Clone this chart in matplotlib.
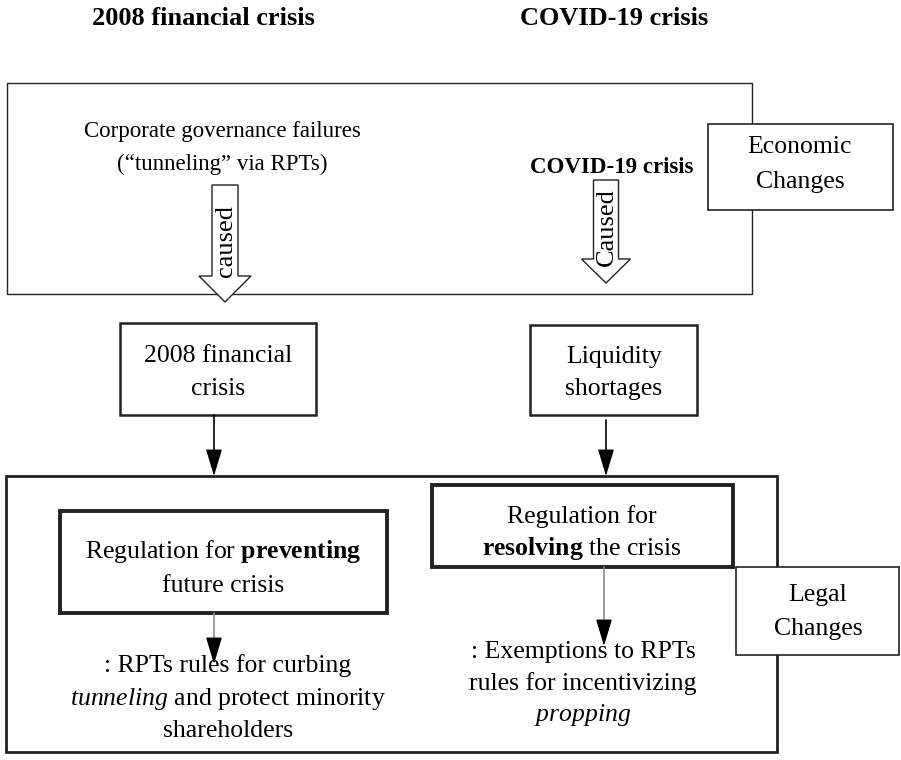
import matplotlib.pyplot as plt
from matplotlib.patches import Rectangle, FancyArrow

plt.rcParams['font.family'] = ['Liberation Serif', 'Noto Sans CJK SC']
plt.rcParams['mathtext.fontset'] = 'custom'
plt.rcParams['mathtext.rm'] = 'Liberation Serif'
plt.rcParams['mathtext.bf'] = 'Liberation Serif:bold'
plt.rcParams['mathtext.it'] = 'Liberation Serif:italic'

# texts of the diagram
titles = ['2008 financial crisis', 'COVID-19 crisis']
cause_left = ['Corporate governance failures', '(\u201ctunneling\u201d via RPTs)']
cause_right = 'COVID-19 crisis'
arrow_words = ['caused', 'Caused']
crisis_boxes = [['2008 financial', 'crisis'], ['Liquidity', 'shortages']]
reg_boxes = [['Regulation for $\\mathbf{preventing}$', 'future crisis'],
             ['Regulation for', '$\\mathbf{resolving}$ the crisis']]
rules_left = [': RPTs rules for curbing', '$\\mathit{tunneling}$ and protect minority', 'shareholders']
rules_right = [': Exemptions to RPTs', 'rules for incentivizing', '$\\mathit{propping}$']
side_labels = [['Economic', 'Changes'], ['Legal', 'Changes']]

fig = plt.figure(figsize=(9.01, 7.6), dpi=100)
ax = fig.add_axes([0, 0, 1, 1])
ax.set_xlim(0, 901)
ax.set_ylim(760, 0)
ax.axis('off')

head = '-|>,head_length=0.6,head_width=0.18'


def box(x0, y0, x1, y1, lw, z=2):
    ax.add_patch(Rectangle((x0, y0), x1 - x0, y1 - y0, fill=True, fc='white',
                           ec='#222222', lw=lw, zorder=z))


def lines(xc, ys, txt, size, **kw):
    for y, t in zip(ys, txt):
        ax.text(xc, y, t, ha='center', va='baseline', fontsize=size, zorder=10, **kw)


def thin_arrow(x, y0, y1, shaft):
    # shaft line, then a black filled head
    ax.annotate('', xy=(x, y1 - 10), xytext=(x, y0),
                arrowprops=dict(arrowstyle='-', color=shaft, lw=1.2, shrinkA=0, shrinkB=0))
    ax.annotate('', xy=(x, y1), xytext=(x, y1 - 20),
                arrowprops=dict(arrowstyle=head, color='black', lw=1.0, mutation_scale=28,
                                shrinkA=0, shrinkB=0), zorder=11)


# titles
ax.text(203, 25, titles[0], ha='center', va='baseline', fontsize=19, fontweight='bold')
ax.text(614, 25, titles[1], ha='center', va='baseline', fontsize=19, fontweight='bold')

# top (economic) box
box(7, 83, 752, 294, 1.0, z=1)
lines(222, [137, 170], cause_left, 16.5)
ax.text(612, 173, cause_right, ha='center', va='baseline', fontsize=16.5, fontweight='bold')

# hollow arrows
ax.add_patch(FancyArrow(225, 185, 0, 117, width=26, head_width=52, head_length=26,
                        length_includes_head=True, fc='white', ec='#222222', lw=1.0, zorder=3))
ax.text(226, 241, arrow_words[0], rotation=90, ha='center', va='center', fontsize=19, zorder=4)
ax.add_patch(FancyArrow(606, 180, 0, 103, width=25, head_width=49, head_length=24,
                        length_includes_head=True, fc='white', ec='#222222', lw=1.0, zorder=3))
ax.text(607, 227, arrow_words[1], rotation=90, ha='center', va='center', fontsize=19, zorder=4)

# economic changes side box
box(708, 124, 893, 210, 1.2)
lines(800, [153, 188], side_labels[0], 18.5)

# crisis boxes
box(120, 323, 316, 415, 1.8)
lines(218, [362, 395], crisis_boxes[0], 18.5)
box(530, 325, 697, 415, 1.8)
lines(614, [363, 395], crisis_boxes[1], 18.5)

# arrows into bottom box
thin_arrow(214, 415, 476, 'black')
thin_arrow(606, 420, 476, 'black')

# bottom (legal) box
box(6, 476, 777, 752, 2.0, z=1)
box(60, 511, 387, 613, 2.8)
lines(223, [558, 592], reg_boxes[0], 18.5)
box(432, 485, 733, 567, 2.8)
lines(582, [523, 555], reg_boxes[1], 18.5)

# legal changes side box
box(736, 567, 899, 655, 1.2)
lines(818, [601, 635], side_labels[1], 18.5)

# gray arrows
thin_arrow(214, 613, 664, '#8a8a8a')
thin_arrow(604, 567, 646, '#8a8a8a')

lines(228, [672, 705, 737], rules_left, 18.5)
lines(583, [658, 690, 721], rules_right, 18.5)

fig.savefig('out.png', dpi=100, facecolor='white')
